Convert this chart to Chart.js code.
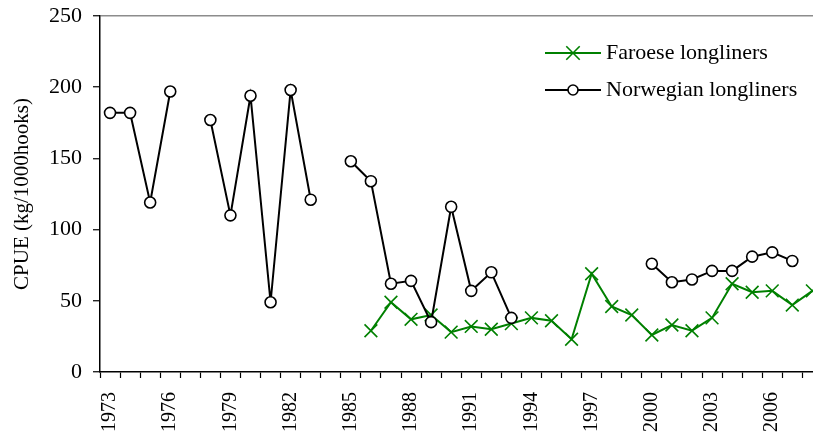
<!DOCTYPE html>
<html>
<head>
<meta charset="utf-8">
<script src="https://cdn.jsdelivr.net/npm/chart.js@4.4.0/dist/chart.umd.min.js"></script>
<style>
  html, body { margin: 0; padding: 0; background: #fff; overflow: hidden; }
  #wrap { width: 813px; height: 439px; overflow: hidden; position: relative; }
  canvas { display: block; }
</style>
</head>
<body>
<div id="wrap"><canvas id="c" width="833" height="439"></canvas></div>
<script>
const years = ['1973','1974','1975','1976','1977','1978','1979','1980','1981','1982','1983','1984','1985','1986','1987','1988','1989','1990','1991','1992','1993','1994','1995','1996','1997','1998','1999','2000','2001','2002','2003','2004','2005','2006','2007','2008'];
const labeledYears = ['1973','1976','1979','1982','1985','1988','1991','1994','1997','2000','2003','2006'];
const norwegian = [182,182,119,197,null,177,110,194,49,198,121,null,148,134,62,64,35,116,57,70,38,null,null,null,null,null,null,76,63,65,71,71,81,84,78,null];
const faroese = [null,null,null,null,null,null,null,null,null,null,null,null,null,29,49,37,40,28,32,30,34,38,36,23,69,46,40,26,33,29,38,62,56,57,47,57];
const yTicks = [0,50,100,150,200,250];
const seriesNames = ['Faroese longliners','Norwegian longliners'];

const FONT = "'Liberation Serif', 'Times New Roman', serif";

const legendPlugin = {
  id: 'insideLegend',
  afterDraw(chart) {
    const ctx = chart.ctx;
    const a = chart.chartArea;
    const x0 = a.left + 445, x1 = a.left + 501, xm = (x0 + x1) / 2;
    const rows = [
      { y: 53, ds: chart.data.datasets[0] },
      { y: 90, ds: chart.data.datasets[1] }
    ];
    ctx.save();
    rows.forEach(r => {
      ctx.strokeStyle = r.ds.borderColor;
      ctx.lineWidth = 2;
      ctx.beginPath(); ctx.moveTo(x0, r.y); ctx.lineTo(x1, r.y); ctx.stroke();
      ctx.fillStyle = r.ds.pointBackgroundColor;
      ctx.strokeStyle = r.ds.pointBorderColor;
      ctx.lineWidth = r.ds.pointBorderWidth;
      Chart.helpers.drawPoint(ctx, {
        pointStyle: r.ds.pointStyle, radius: r.ds.legendRadius,
        borderWidth: r.ds.pointBorderWidth, rotation: 0
      }, xm, r.y);
      ctx.fillStyle = '#000';
      ctx.font = '22px ' + FONT;
      ctx.textBaseline = 'middle';
      ctx.textAlign = 'left';
      ctx.fillText(r.ds.label, x1 + 5, r.y);
    });
    ctx.restore();
  }
};

function zeroPad(s) { s.paddingLeft = 0; s.paddingRight = 0; s.paddingTop = 0; s.paddingBottom = 0; }

new Chart(document.getElementById('c'), {
  type: 'line',
  data: {
    labels: years,
    datasets: [
      {
        label: seriesNames[0],
        data: faroese,
        borderColor: '#008000',
        backgroundColor: '#008000',
        borderWidth: 2,
        pointStyle: 'crossRot',
        pointRadius: 9,
        legendRadius: 9.5,
        pointBorderWidth: 1.6,
        pointBorderColor: '#008000',
        pointBackgroundColor: '#008000',
        tension: 0,
        spanGaps: false,
        order: 1
      },
      {
        label: seriesNames[1],
        data: norwegian,
        borderColor: '#000000',
        backgroundColor: '#ffffff',
        borderWidth: 2,
        pointStyle: 'circle',
        pointRadius: 5.5,
        legendRadius: 5,
        pointBorderWidth: 1.6,
        pointBorderColor: '#000000',
        pointBackgroundColor: '#ffffff',
        tension: 0,
        spanGaps: false,
        order: 0
      }
    ]
  },
  options: {
    responsive: false,
    animation: false,
    devicePixelRatio: 1,
    layout: { padding: { top: 16, right: 0, left: 0, bottom: 0 } },
    plugins: {
      legend: { display: false },
      tooltip: { enabled: false }
    },
    scales: {
      x: {
        type: 'category',
        offset: true,
        grid: {
          offset: true,
          drawOnChartArea: false,
          drawTicks: true,
          tickLength: 6,
          tickColor: '#000',
          tickWidth: 1.2
        },
        border: { color: '#000', width: 1.5 },
        ticks: {
          autoSkip: false,
          minRotation: 90,
          maxRotation: 90,
          padding: 14,
          color: '#000',
          font: { family: FONT, size: 20 },
          callback: function(v, i) {
            const l = years[i];
            return labeledYears.includes(l) ? l : '';
          }
        },
        afterFit: s => { s.height = 67; zeroPad(s); }
      },
      y: {
        min: 0,
        max: 250,
        afterBuildTicks: s => { s.ticks = yTicks.map(v => ({ value: v })); },
        grid: {
          drawTicks: true,
          tickLength: 7,
          tickColor: '#000',
          tickWidth: 1.2,
          color: c => (c.tick && c.tick.value === 250) ? '#8c8c8c' : 'rgba(0,0,0,0)',
          lineWidth: 1.5
        },
        border: { color: '#000', width: 1.5 },
        ticks: {
          padding: 11,
          color: '#000',
          font: { family: FONT, size: 22 }
        },
        title: {
          display: true,
          text: 'CPUE (kg/1000hooks)',
          color: '#000',
          font: { family: FONT, size: 21 },
          padding: { top: 10, bottom: 0 }
        },
        afterFit: s => { s.width = 100; zeroPad(s); }
      }
    }
  },
  plugins: [legendPlugin]
});
</script>
</body>
</html>
